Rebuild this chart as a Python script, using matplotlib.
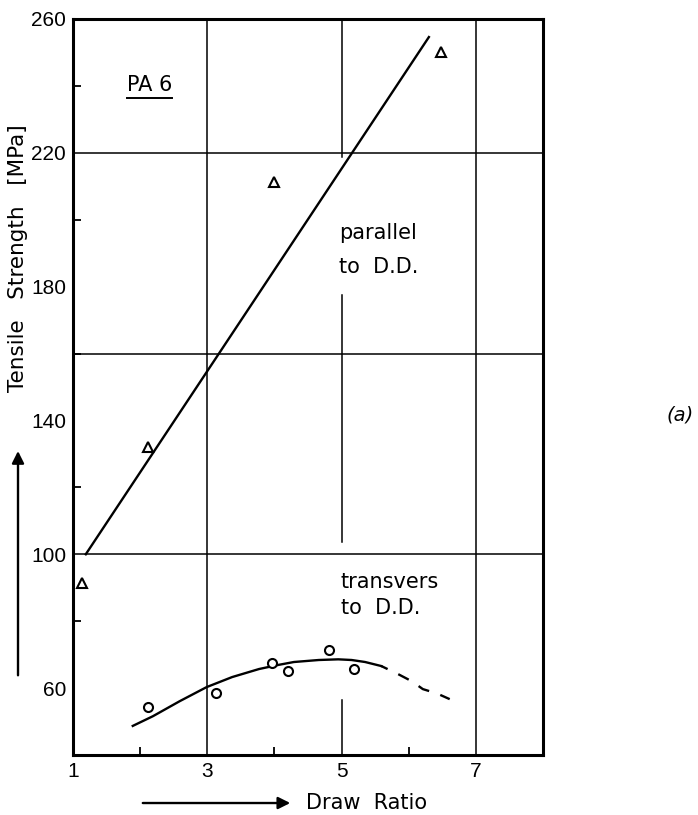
import matplotlib
matplotlib.use("Agg")
from matplotlib import pyplot as plt

plt.rcParams['font.family'] = ['Liberation Sans', 'DejaVu Sans']

# parallel to D.D. (triangles) and regression line
par_x = [1.13, 2.11, 3.99, 6.48]
par_y = [91.3, 132.0, 211.3, 250.0]
par_line_x = [1.19, 6.30]
par_line_y = [100.0, 254.6]

# transvers to D.D. (circles) and hand drawn curve
tr_x = [2.11, 3.13, 3.96, 4.20, 4.81, 5.18]
tr_y = [54.3, 58.5, 67.5, 65.1, 71.3, 65.7]
curve_x = [1.89, 2.19, 2.59, 2.99, 3.37, 3.77, 4.05, 4.29, 4.66, 4.95, 5.15, 5.35, 5.59]
curve_y = [48.7, 51.6, 56.1, 60.3, 63.3, 65.7, 66.9, 67.8, 68.4, 68.6, 68.4, 67.8, 66.6]
dash_x = [5.59, 5.84, 6.05, 6.21, 6.42, 6.61]
dash_y = [66.6, 64.2, 62.0, 59.7, 58.4, 56.7]

x_ticks = [1, 3, 5, 7]
x_minor = [2, 4, 6]
y_ticks = [60, 100, 140, 180, 220, 260]
y_minor = [80, 120, 160, 200, 240]
h_grid = [220, 160, 100]
v_grid_full = [3, 7]
# the grid line at 5 is interrupted where the labels sit
v_grid_5 = [(218.8, 260), (103.6, 177.6), (40, 56.4)]

TXT = 'DejaVu Sans'

fig = plt.figure(figsize=(6.98, 8.15), dpi=100)
ax = fig.add_axes([0.1046, 0.0736, 0.6734, 0.9031])
ax.set_xlim(1, 8)
ax.set_ylim(40, 260)

for y in h_grid:
    ax.axhline(y, color='black', lw=1.1, zorder=1)
for x in v_grid_full:
    ax.axvline(x, color='black', lw=1.1, zorder=1)
for lo, hi in v_grid_5:
    ax.plot([5, 5], [lo, hi], color='black', lw=1.1, zorder=1)

ax.plot(par_line_x, par_line_y, color='black', lw=1.7)
ax.plot(par_x, par_y, ls='none', marker='^', ms=7, mfc='white',
        mec='black', mew=1.5)
ax.plot(curve_x, curve_y, color='black', lw=1.7)
ax.plot(dash_x, dash_y, color='black', lw=1.7, ls=(2, (5, 5)))
ax.plot(tr_x, tr_y, ls='none', marker='o', ms=6.5, mfc='white',
        mec='black', mew=1.5)

ax.set_xticks(x_ticks)
ax.set_xticks(x_minor, minor=True)
ax.set_yticks(y_ticks)
ax.set_yticks(y_minor, minor=True)
ax.tick_params(which='both', direction='in', length=6, width=1.3,
               labelsize=15, pad=5)
ax.tick_params(axis='y', which='major', length=0)
ax.tick_params(axis='x', which='major', length=0)
for s in ax.spines.values():
    s.set_linewidth(2.2)

ax.text(1.81, 240.3, 'PA 6', fontsize=15, family=TXT, va='center', ha='left')
ax.plot([1.81, 2.48], [236.4, 236.4], color='black', lw=1.4)
ax.text(4.96, 196, 'parallel', fontsize=15, family=TXT, va='center', ha='left')
ax.text(4.96, 186, 'to  D.D.', fontsize=15, family=TXT, va='center', ha='left')
ax.text(4.99, 91.7, 'transvers', fontsize=15, family=TXT, va='center', ha='left')
ax.text(4.99, 84, 'to  D.D.', fontsize=15, family=TXT, va='center', ha='left')

fig.text(0.0258, 0.683, 'Tensile   Strength   [MPa]', rotation=90,
         fontsize=15.5, family=TXT, ha='center', va='center')
fig.text(0.5247, 0.0147, 'Draw  Ratio', fontsize=15, family=TXT,
         ha='center', va='center')
fig.text(0.974, 0.491, '(a)', fontsize=14, family=TXT, style='italic',
         ha='center', va='center')

ax.annotate('', xy=(0.0258, 0.450), xytext=(0.0258, 0.168),
            xycoords='figure fraction', textcoords='figure fraction',
            arrowprops=dict(arrowstyle='-|>', color='black', lw=1.7,
                            mutation_scale=18))
ax.annotate('', xy=(0.4198, 0.0147), xytext=(0.2006, 0.0147),
            xycoords='figure fraction', textcoords='figure fraction',
            arrowprops=dict(arrowstyle='-|>', color='black', lw=1.7,
                            mutation_scale=18))

plt.savefig('out.png', dpi=100)
